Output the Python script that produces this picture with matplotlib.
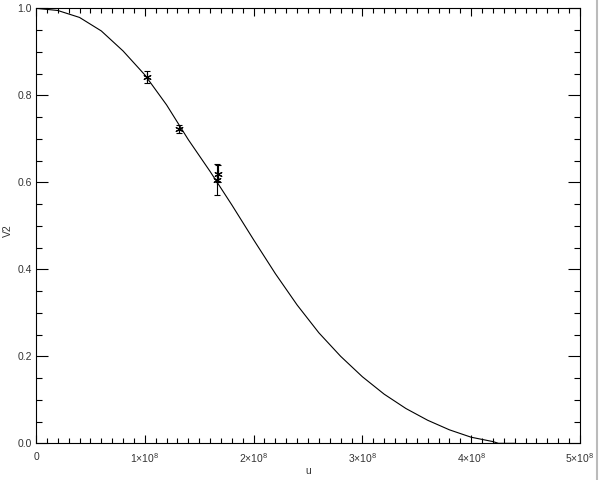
import matplotlib
matplotlib.use("Agg")
import matplotlib.pyplot as plt
from matplotlib.ticker import MultipleLocator, FixedLocator, FixedFormatter
from matplotlib.lines import Line2D
import numpy as np

# model curve (u in units of 1e8)
u_model = [0.0, 0.2, 0.4, 0.6, 0.8, 1.0, 1.2, 1.4, 1.6, 1.8, 2.0, 2.2, 2.4,
           2.6, 2.8, 3.0, 3.2, 3.4, 3.6, 3.8, 4.0, 4.2, 4.25, 4.4]
v2_model = [1.0, 0.995, 0.979, 0.948, 0.902, 0.847, 0.778, 0.698, 0.625, 0.548, 0.468, 0.390, 0.318,
            0.254, 0.200, 0.153, 0.113, 0.080, 0.053, 0.031, 0.014, 0.004, 0.0, 0.0]

# measurements
u_obs = [1.023, 1.314, 1.67, 1.66]
v2_obs = [0.843, 0.7225, 0.620, 0.606]
v2_err = [0.014, 0.009, 0.020, 0.035]

xticks = [0, 1, 2, 3, 4, 5]
xticklabels = ["0", r"1$\times$10$^8$", r"2$\times$10$^8$", r"3$\times$10$^8$",
               r"4$\times$10$^8$", r"5$\times$10$^8$"]
yticks = [0.0, 0.2, 0.4, 0.6, 0.8, 1.0]

plt.rcParams["font.family"] = ["Liberation Sans", "DejaVu Sans"]
plt.rcParams["mathtext.fontset"] = "custom"
plt.rcParams["mathtext.rm"] = "Liberation Sans"
plt.rcParams["mathtext.it"] = "Liberation Sans:italic"
plt.rcParams["mathtext.bf"] = "Liberation Sans:bold"

fig = plt.figure(figsize=(6, 4.8), dpi=100)
ax = fig.add_axes([0.06, 0.0764, 0.9067, 0.9063])

ax.plot(np.array(u_model) * 1e8, v2_model, color="black", lw=0.8)
ax.errorbar(np.array(u_obs) * 1e8, v2_obs, yerr=v2_err, fmt="none", ecolor="black",
            elinewidth=0.8, capsize=2.2, capthick=0.8)
ax.plot(np.array(u_obs) * 1e8, v2_obs, ls="none", marker=(6, 2, 0), ms=6,
        mec="black", mew=0.8)

ax.set_xlim(0, 5e8)
ax.set_ylim(0, 1.0)
ax.xaxis.set_major_locator(FixedLocator([t * 1e8 for t in xticks]))
ax.xaxis.set_major_formatter(FixedFormatter(xticklabels))
ax.xaxis.set_minor_locator(MultipleLocator(1e7))
ax.set_yticks(yticks)
ax.set_yticklabels(["%.1f" % t for t in yticks])
ax.yaxis.set_minor_locator(MultipleLocator(0.05))

ax.tick_params(axis="x", which="both", direction="in", top=True, bottom=True,
               labelsize=7.5, labelcolor="#333333", pad=6, width=0.8)
ax.tick_params(axis="x", which="major", length=6)
ax.tick_params(axis="x", which="minor", length=3.3)
ax.tick_params(axis="y", which="both", direction="in", left=True, right=True,
               labelsize=7.5, labelcolor="#333333", pad=3, width=0.8)
ax.tick_params(axis="y", which="major", length=8.5)
ax.tick_params(axis="y", which="minor", length=4.5)

for s in ax.spines.values():
    s.set_linewidth(0.8)

ax.set_xlabel("u", fontsize=7.5, color="#333333")
ax.xaxis.set_label_coords(0.5, -0.063)
ax.xaxis.label.set_va("center")
ax.set_ylabel("V2", fontsize=7.5, color="#333333")
ax.yaxis.set_label_coords(-0.052, 0.49)
ax.yaxis.label.set_va("center")

fig.add_artist(Line2D([0.995, 0.995], [0, 1], color="#bbbbbb", lw=1.5))

fig.savefig("out.png", dpi=100)
